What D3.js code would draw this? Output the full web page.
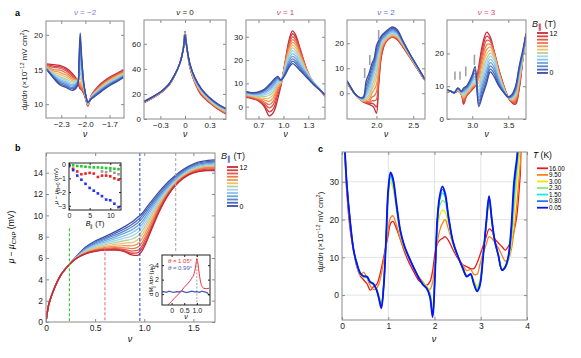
<!DOCTYPE html>
<html>
<head>
<meta charset="utf-8">
<script src="https://cdn.jsdelivr.net/npm/d3@7"></script>
<style>
body { margin: 0; background: #fff; }
svg { font-family: "Liberation Sans", Arial, sans-serif; }
</style>
</head>
<body>
<svg id="fig" width="581" height="358"></svg>
<script>
// ---------- data ----------
// in-plane fields (T), row order of every field matrix below = 0..12 T
var fieldsT = [0, 1, 2, 3, 4, 5, 6, 7, 8, 9, 10, 11, 12];
var fieldColors = ["#3a4ca6", "#4a68bc", "#5a86cc", "#6ea4dc", "#88c4ea", "#a4d4ee", "#b4cfa8",
                   "#f0c068", "#f09a5a", "#ea7a50", "#e05a48", "#d64040", "#c42a3a"];

// panel a, nu = -2
var nuM2 = [-2.48, -2.4, -2.32, -2.24, -2.16, -2.1, -2.08, -2.065, -2.05, -2.02, -1.99, -1.97, -1.92, -1.84, -1.76, -1.68, -1.6, -1.53];
var dmuM2 = [
  [15.0, 13.8, 12.8, 12.4, 12.0, 12.6, 16.5, 20.3, 17.5, 13.0, 11.0, 10.3, 10.8, 11.5, 12.2, 12.8, 13.3, 13.8],
  [15.0, 13.9, 13.0, 12.6, 12.2, 12.8, 16.0, 19.6, 17.0, 13.0, 11.0, 10.3, 10.9, 11.6, 12.3, 12.9, 13.4, 13.9],
  [15.1, 14.0, 13.2, 12.8, 12.4, 13.0, 15.5, 18.5, 16.5, 12.9, 11.0, 10.2, 10.9, 11.7, 12.4, 13.0, 13.5, 14.0],
  [15.1, 14.1, 13.4, 13.0, 12.6, 13.1, 15.0, 17.5, 15.8, 12.8, 10.9, 10.2, 11.0, 11.8, 12.5, 13.1, 13.6, 14.1],
  [15.2, 14.2, 13.6, 13.2, 12.8, 13.2, 14.6, 16.5, 15.0, 12.7, 10.9, 10.1, 11.0, 11.9, 12.6, 13.2, 13.7, 14.1],
  [15.2, 14.3, 13.8, 13.4, 13.0, 13.3, 14.2, 15.5, 14.3, 12.6, 10.8, 10.1, 11.1, 12.0, 12.7, 13.3, 13.8, 14.2],
  [15.3, 14.4, 14.0, 13.6, 13.2, 13.4, 13.8, 14.6, 13.8, 12.5, 10.8, 10.0, 11.1, 12.0, 12.8, 13.4, 13.9, 14.3],
  [15.3, 14.6, 14.3, 13.9, 13.4, 13.4, 13.5, 13.8, 13.2, 12.3, 10.7, 10.0, 11.2, 12.1, 12.9, 13.5, 14.0, 14.4],
  [15.4, 14.8, 14.6, 14.2, 13.6, 13.4, 13.2, 13.2, 12.8, 12.1, 10.7, 9.9, 11.2, 12.2, 13.0, 13.6, 14.1, 14.5],
  [15.5, 15.0, 14.9, 14.5, 13.8, 13.4, 13.0, 12.8, 12.5, 11.9, 10.6, 9.9, 11.3, 12.3, 13.1, 13.7, 14.2, 14.6],
  [15.6, 15.3, 15.2, 14.8, 14.0, 13.4, 12.8, 12.5, 12.3, 11.7, 10.6, 9.8, 11.3, 12.4, 13.2, 13.8, 14.3, 14.7],
  [15.7, 15.5, 15.4, 15.0, 14.2, 13.4, 12.7, 12.3, 12.2, 11.6, 10.5, 9.8, 11.4, 12.5, 13.3, 13.9, 14.4, 14.8],
  [15.8, 15.7, 15.6, 15.2, 14.4, 13.4, 12.6, 12.2, 12.1, 11.5, 10.5, 9.7, 11.4, 12.6, 13.4, 14.0, 14.5, 14.9]
];

// panel a, nu = 0
var nu0 = [-0.5, -0.4, -0.3, -0.2, -0.12, -0.06, -0.02, 0, 0.02, 0.06, 0.12, 0.2, 0.3, 0.4, 0.5];
var dmu0 = [
  [14, 17.5, 21.5, 27.5, 36, 45, 56, 67, 58, 44, 33, 24, 17, 12, 8.5],
  [14, 17.5, 21.5, 27.5, 36, 45, 56, 67, 58, 44, 33, 24, 17, 12, 8.2],
  [13.9, 17.4, 21.4, 27.4, 36, 45, 56, 67.5, 58, 43.5, 32.5, 23.5, 16.5, 11.5, 8],
  [13.9, 17.4, 21.4, 27.4, 36, 45, 56, 67.5, 58, 43.5, 32.5, 23.3, 16.3, 11.2, 7.6],
  [13.8, 17.3, 21.3, 27.3, 35.8, 45, 56.2, 68, 58.2, 43.2, 32, 23, 16, 10.8, 7.2],
  [13.8, 17.3, 21.3, 27.2, 35.8, 45, 56.2, 68, 58.3, 43, 31.6, 22.5, 15.6, 10.4, 6.8],
  [13.7, 17.2, 21.2, 27.1, 35.7, 45, 56.4, 68.5, 58.4, 42.8, 31.2, 22, 15.2, 10, 6.3],
  [13.6, 17.1, 21.1, 27, 35.7, 45, 56.5, 68.8, 58.5, 42.5, 30.8, 21.5, 14.8, 9.6, 5.9],
  [13.5, 17, 21, 26.9, 35.6, 45, 56.6, 69, 58.6, 42.2, 30.4, 21, 14.4, 9.2, 5.5],
  [13.4, 16.9, 20.9, 26.8, 35.6, 45, 56.7, 69.3, 58.7, 41.9, 30, 20.5, 14, 8.8, 5.1],
  [13.3, 16.8, 20.8, 26.7, 35.5, 45, 56.8, 69.5, 58.8, 41.6, 29.6, 20, 13.6, 8.5, 4.7],
  [13.2, 16.7, 20.7, 26.6, 35.5, 45, 56.9, 69.8, 58.9, 41.3, 29.3, 19.5, 13.3, 8.2, 4.3],
  [13.1, 16.6, 20.6, 26.5, 35.4, 45, 57, 70, 59, 41, 29, 19, 13, 8, 4]
];

// panel a, nu = 1
var nu1 = [0.55, 0.62, 0.7, 0.77, 0.83, 0.88, 0.93, 0.97, 1.02, 1.07, 1.11, 1.15, 1.2, 1.28, 1.36, 1.44, 1.5];
var dmu1 = [
  [6.5, 6.0, 6.3, 7.5, 9.5, 11.5, 13.0, 11.5, 13.5, 17.0, 18.5, 17.5, 15.5, 12.5, 9.5, 7.0, 5.0],
  [6.4, 5.9, 6.1, 7.2, 9.0, 11.0, 12.6, 11.4, 14.0, 17.8, 19.5, 18.5, 16.2, 13.0, 9.8, 7.2, 5.1],
  [6.2, 5.7, 5.8, 6.8, 8.4, 10.3, 12.2, 11.3, 14.5, 18.8, 20.5, 19.5, 17.0, 13.4, 10.0, 7.3, 5.1],
  [6.0, 5.5, 5.5, 6.3, 7.6, 9.5, 11.6, 11.2, 15.0, 19.8, 21.6, 20.6, 17.8, 13.8, 10.2, 7.4, 5.0],
  [5.8, 5.3, 5.1, 5.7, 6.8, 8.6, 11.0, 11.1, 15.6, 20.8, 22.8, 21.7, 18.7, 14.2, 10.4, 7.4, 5.0],
  [5.6, 5.0, 4.7, 5.1, 5.8, 7.6, 10.4, 11.0, 16.2, 21.8, 24.0, 22.8, 19.6, 14.6, 10.5, 7.4, 4.9],
  [5.4, 4.8, 4.3, 4.4, 4.8, 6.5, 9.8, 10.9, 16.8, 22.8, 25.2, 24.0, 20.5, 15.0, 10.6, 7.3, 4.9],
  [5.2, 4.6, 3.9, 3.6, 3.6, 5.3, 9.2, 10.6, 17.3, 23.8, 26.4, 25.2, 21.4, 15.2, 10.6, 7.3, 4.8],
  [5.0, 4.4, 3.6, 2.8, 2.3, 4.0, 8.4, 10.3, 17.7, 24.8, 27.6, 26.4, 22.3, 15.4, 10.5, 7.2, 4.7],
  [4.8, 4.2, 3.3, 2.0, 0.9, 2.5, 7.5, 10.0, 18.1, 25.8, 28.8, 27.5, 23.1, 15.6, 10.4, 7.2, 4.7],
  [4.5, 4.0, 3.0, 1.3, -0.5, 1.0, 6.3, 9.7, 18.5, 27.0, 30.0, 28.5, 23.8, 15.8, 10.3, 7.1, 4.6],
  [4.2, 3.7, 2.7, 0.6, -2.2, -0.8, 4.8, 9.3, 18.8, 28.0, 31.3, 29.5, 24.5, 15.9, 10.2, 7.0, 4.5],
  [4.0, 3.5, 2.5, 0, -4, -2.5, 3, 9, 19, 29, 32.5, 30.5, 25, 16, 10, 7, 4.5]
];

// panel a, nu = 2
var nu2 = [1.6, 1.65, 1.7, 1.76, 1.82, 1.86, 1.9, 1.94, 1.97, 2.0, 2.03, 2.07, 2.12, 2.18, 2.22, 2.28, 2.36, 2.45, 2.55, 2.66];
var dmu2 = [
  [5, 2.5, 0, -1.5, -1.5, 5, 8, 12, 14, 19, 21, 23, 24.5, 26, 26.5, 25.5, 21, 16, 11, 5.5],
  [5, 2.5, 0, -1.5, -1.8, 3, 6.5, 10.5, 13, 17.5, 20, 22.5, 24, 25.5, 26, 25, 20.8, 15.9, 11, 5.5],
  [4.9, 2.4, 0, -1.6, -2, 1.5, 5, 9, 12, 16, 19, 22, 23.5, 25, 25.5, 24.6, 20.6, 15.8, 10.9, 5.4],
  [4.8, 2.4, 0, -1.6, -2.2, 0.5, 3.5, 7.5, 10.5, 14.5, 18, 21.5, 23, 24.5, 25, 24.2, 20.4, 15.7, 10.8, 5.4],
  [4.7, 2.3, 0, -1.7, -2.4, -0.5, 2, 6, 9, 13, 17, 21, 22.6, 24, 24.5, 23.8, 20.2, 15.6, 10.7, 5.3],
  [4.6, 2.3, 0, -1.7, -2.6, -1.2, 0.8, 4.5, 7.5, 11, 16, 20.5, 22.2, 23.6, 24.1, 23.4, 20, 15.5, 10.6, 5.3],
  [4.5, 2.2, 0, -1.8, -2.8, -2, -0.5, 3, 5.5, 9, 15, 19.5, 21.8, 23.2, 23.7, 23, 19.8, 15.3, 10.5, 5.2],
  [4.4, 2.2, 0, -1.8, -3, -2.5, -1.5, 1.5, 3.5, 6.5, 13, 19, 21.4, 22.9, 23.4, 22.7, 19.6, 15.2, 10.4, 5.2],
  [4.3, 2.1, 0, -1.9, -3.1, -3, -2.5, 0, 1.5, 3.5, 10, 18, 21, 22.6, 23.1, 22.4, 19.3, 15, 10.3, 5.1],
  [4.2, 2.1, 0, -1.9, -3.2, -3.3, -3.3, -1.5, -1, 0.5, 8, 17.5, 20.7, 22.4, 22.9, 22.1, 19.1, 14.9, 10.2, 5.1],
  [4.1, 2, 0, -2, -3.3, -3.6, -3.8, -3, -3, -2.5, 6, 16.5, 20.4, 22.2, 22.7, 21.9, 18.9, 14.7, 10.1, 5],
  [4, 2, 0, -2, -3.4, -3.8, -4.2, -4, -4.5, -5.5, 4.5, 15.8, 20.2, 22.1, 22.6, 21.7, 18.7, 14.6, 10, 5],
  [4, 2, 0, -2, -3.5, -4, -4.5, -5, -6, -8, 3, 15, 20, 22, 22.5, 21.5, 18.5, 14.5, 10, 5]
];
var marks2 = [[1.84, 6.1, 10.1], [1.91, 11.3, 15.3], [2.03, 21.3, 25.3]];

// panel a, nu = 3
var nu3 = [2.65, 2.7, 2.75, 2.8, 2.85, 2.88, 2.92, 2.96, 3.0, 3.04, 3.09, 3.14, 3.2, 3.25, 3.3, 3.37, 3.44, 3.5, 3.55, 3.6, 3.65, 3.7, 3.745];
var dmu3 = [
  [9, 8.5, 8, 9.5, 8.5, 9.5, 10, 11.5, 13.5, 16, 3.8, 7, 11, 14.4, 13, 10, 8, 6.8, 7.5, 10, 16, 21, 26],
  [9, 8.5, 8, 9.4, 8.4, 9.2, 9.8, 11.2, 13, 15, 4.5, 8, 12, 15.2, 14, 10.4, 8, 6.6, 7.2, 9.5, 15.5, 20.5, 26],
  [8.9, 8.5, 8, 9.3, 8.3, 8.8, 9.5, 10.8, 12.5, 14, 5.5, 9.2, 13.2, 16.2, 15, 11, 8.2, 6.5, 7, 9, 15, 20, 26],
  [8.8, 8.5, 8, 9.2, 8.2, 8.4, 9.2, 10.4, 12, 13, 6.5, 10.4, 14.5, 17.2, 16, 11.6, 8.4, 6.5, 6.8, 8.6, 14.3, 19.6, 26],
  [8.7, 8.5, 8, 9.1, 8.1, 8, 8.9, 10, 11.5, 12.2, 7.5, 11.6, 15.8, 18.2, 17, 12.2, 8.6, 6.5, 6.6, 8.2, 13.6, 19.3, 26],
  [8.6, 8.5, 8, 9, 8, 7.6, 8.6, 9.6, 11, 11.6, 8.6, 12.9, 17.1, 19.2, 18, 12.8, 8.8, 6.5, 6.4, 7.8, 13, 19, 26],
  [8.5, 8.5, 8, 8.9, 7.9, 7.2, 8.3, 9.2, 10.6, 11.1, 9.8, 14.2, 18.4, 20.1, 18.8, 13.2, 9, 6.5, 6.2, 7.3, 12.4, 18.8, 26],
  [8.4, 8.5, 8, 8.8, 7.8, 6.8, 8, 8.9, 10.2, 10.8, 11, 15.6, 19.8, 21, 19.4, 13.6, 9.2, 6.5, 6, 6.8, 11.8, 18.6, 26],
  [8.3, 8.5, 8, 8.7, 7.7, 6.4, 7.8, 8.6, 9.9, 10.5, 12.2, 17, 21.2, 22, 19.9, 14, 9.4, 6.5, 5.7, 6.3, 11.2, 18.4, 26],
  [8.2, 8.5, 8, 8.6, 7.6, 6, 7.5, 8.4, 9.6, 10.3, 13.3, 18.4, 22.6, 22.8, 20.3, 14.3, 9.6, 6.5, 5.5, 5.8, 10.6, 18.3, 26],
  [8.1, 8.5, 8, 8.6, 7.6, 5.5, 7.3, 8.2, 9.4, 10.2, 14.4, 19.8, 24, 23.6, 20.6, 14.6, 9.8, 6.5, 5.3, 5.3, 10, 18.2, 26],
  [8, 8.5, 8, 8.5, 7.5, 5, 7.1, 8.1, 9.2, 10.1, 15.2, 21.2, 25.3, 24.3, 20.8, 14.8, 9.9, 6.5, 5.1, 4.9, 9.5, 18.1, 26],
  [8, 8.5, 8, 8.5, 7.5, 4.5, 7, 8, 9, 10, 16, 22.5, 26.5, 25, 21, 15, 10, 6.5, 5, 4.5, 9, 18, 26]
];
var marks3 = [[2.76, 12, 14.5], [2.83, 12, 14.5], [2.91, 13, 16], [3.03, 16.5, 19.6]];

// panel b, chemical potential
var nuB = [0, 0.02, 0.05, 0.1, 0.15, 0.2, 0.25, 0.3, 0.4, 0.5, 0.6, 0.7, 0.8, 0.87, 0.93, 0.97, 1.02, 1.08, 1.15, 1.25, 1.35, 1.45, 1.55, 1.65, 1.72];
var muB = [
  [0, 1.3, 2.3, 3.5, 4.4, 5.0, 5.55, 6.05, 7.0, 7.6, 8.0, 8.45, 8.95, 9.35, 9.8, 10.1, 10.7, 11.4, 12.2, 13.2, 14.0, 14.6, 15.0, 15.15, 15.2],
  [0, 1.3, 2.3, 3.5, 4.4, 5.0, 5.55, 6.03, 6.93, 7.5, 7.88, 8.3, 8.75, 9.12, 9.55, 9.88, 10.48, 11.2, 12.02, 13.05, 13.88, 14.5, 14.9, 15.05, 15.1],
  [0, 1.3, 2.3, 3.5, 4.4, 5.0, 5.55, 6.01, 6.86, 7.4, 7.76, 8.14, 8.55, 8.88, 9.28, 9.62, 10.24, 11.0, 11.84, 12.9, 13.76, 14.4, 14.8, 14.95, 15.0],
  [0, 1.3, 2.3, 3.5, 4.4, 5.0, 5.54, 5.99, 6.79, 7.29, 7.63, 7.97, 8.33, 8.62, 9.0, 9.34, 9.98, 10.8, 11.66, 12.76, 13.64, 14.3, 14.7, 14.85, 14.9],
  [0, 1.3, 2.3, 3.5, 4.4, 5.0, 5.54, 5.97, 6.72, 7.18, 7.5, 7.8, 8.1, 8.35, 8.7, 9.05, 9.72, 10.58, 11.48, 12.62, 13.52, 14.2, 14.6, 14.75, 14.8],
  [0, 1.3, 2.3, 3.5, 4.4, 5.0, 5.53, 5.95, 6.65, 7.07, 7.37, 7.62, 7.87, 8.06, 8.38, 8.74, 9.44, 10.35, 11.3, 12.5, 13.45, 14.1, 14.5, 14.65, 14.7],
  [0, 1.3, 2.3, 3.5, 4.4, 5.0, 5.53, 5.93, 6.59, 6.97, 7.24, 7.44, 7.63, 7.76, 8.05, 8.42, 9.15, 10.1, 11.15, 12.4, 13.4, 14.05, 14.45, 14.6, 14.65],
  [0, 1.3, 2.3, 3.5, 4.4, 5.0, 5.52, 5.92, 6.54, 6.88, 7.12, 7.27, 7.4, 7.45, 7.7, 8.08, 8.84, 9.85, 11.0, 12.3, 13.35, 14.0, 14.4, 14.55, 14.6],
  [0, 1.3, 2.3, 3.5, 4.4, 5.0, 5.52, 5.91, 6.49, 6.8, 7.0, 7.1, 7.16, 7.14, 7.3, 7.7, 8.52, 9.6, 10.85, 12.25, 13.3, 13.95, 14.35, 14.5, 14.5],
  [0, 1.3, 2.3, 3.5, 4.4, 5.0, 5.51, 5.9, 6.45, 6.74, 6.91, 6.98, 6.96, 6.88, 7.0, 7.35, 8.2, 9.35, 10.7, 12.2, 13.25, 13.9, 14.3, 14.45, 14.45],
  [0, 1.3, 2.3, 3.5, 4.4, 5.0, 5.51, 5.9, 6.42, 6.69, 6.84, 6.88, 6.8, 6.65, 6.72, 7.05, 7.9, 9.1, 10.55, 12.12, 13.2, 13.85, 14.2, 14.35, 14.35],
  [0, 1.3, 2.3, 3.5, 4.4, 5.0, 5.5, 5.9, 6.4, 6.65, 6.78, 6.8, 6.68, 6.45, 6.48, 6.8, 7.65, 8.95, 10.4, 12.05, 13.15, 13.8, 14.15, 14.25, 14.3],
  [0, 1.3, 2.3, 3.5, 4.4, 5.0, 5.5, 5.9, 6.38, 6.62, 6.74, 6.74, 6.6, 6.3, 6.25, 6.55, 7.45, 8.8, 10.3, 12.0, 13.1, 13.8, 14.1, 14.2, 14.2]
];
var guideNu = [0.238, 0.6, 0.955, 1.32];
var guideTop = [8.8, 7.0, 15.85, 15.85];
var guideBottom = [0, 0, 0, 6.6];
var guideColors = ["#34c034", "#f06a78", "#3050f0", "#aaaaaa"];

// panel b, upper inset: shift of mu at fixed nu vs field
var shiftGreen = [0, -0.05, -0.1, -0.12, -0.15, -0.18, -0.2, -0.2, -0.22, -0.25, -0.27, -0.3, -0.33];
var shiftRed = [-0.1, -0.3, -0.5, -0.7, -0.65, -0.6, -0.65, -0.9, -0.8, -0.8, -0.85, -1.0, -1.1];
var shiftBlue = [-0.1, -0.4, -0.8, -1.1, -1.4, -1.7, -1.9, -2.1, -2.3, -2.55, -2.6, -2.85, -3.1];
var grayFields = [8, 9, 10, 11, 12];
var shiftGray = [-0.5, -0.55, -0.45, -0.6, -0.7];

// panel b, lower inset: magnetisation derivative
var nuMagRed = [-0.15, 0, 0.1, 0.2, 0.3, 0.4, 0.5, 0.6, 0.7, 0.8, 0.88, 0.94, 0.98, 1.0, 1.03, 1.08, 1.14, 1.2, 1.28, 1.38, 1.48];
var magRed = [-1.5, -1.0, -0.6, -0.25, 0.1, 0.5, 0.95, 1.3, 1.7, 2.2, 2.7, 3.6, 4.5, 4.9, 4.5, 3.2, 1.8, 1.1, 0.8, 0.75, 0.8];
var nuMagBlue = [-0.38, -0.3, -0.2, -0.1, 0, 0.1, 0.2, 0.3, 0.4, 0.5, 0.6, 0.7, 0.8, 0.9, 1.0, 1.1, 1.2, 1.3, 1.4, 1.5];
var magBlue = [0.3, 0.35, 0.25, 0.4, 0.3, 0.25, 0.35, 0.3, 0.45, 0.3, 0.2, 0.3, 0.4, 0.3, 0.35, 0.25, 0.4, 0.3, 0.2, -0.2];

// panel c, temperature dependence
var tempLabels = ["16.00", "9.50", "3.00", "2.30", "1.50", "0.80", "0.05"];
var tempColors = ["#e8191c", "#f7821e", "#f2e600", "#7cea7c", "#18e6f0", "#1a7cf2", "#0a14f0"];
var nuC = [0.05, 0.1, 0.18, 0.25, 0.32, 0.4, 0.47, 0.54, 0.61, 0.68, 0.75, 0.8, 0.85, 0.9, 0.95, 1.0, 1.05, 1.1, 1.18, 1.26,
           1.35, 1.45, 1.55, 1.65, 1.75, 1.83, 1.9, 1.96, 2.01, 2.06, 2.11, 2.17, 2.23, 2.3, 2.4, 2.5, 2.6, 2.7, 2.78, 2.85,
           2.92, 2.98, 3.05, 3.12, 3.18, 3.24, 3.3, 3.38, 3.46, 3.53, 3.6, 3.66, 3.72, 3.78, 3.85, 3.92, 4.0];
var dmuC = [
  [42, 28, 17, 11.9, 7.5, 5, 4, 3, 1.3, 2.2, 2.8, 4.5, 7, 10, 13, 16, 19, 19.5, 17.5, 14.8, 11.5, 8.6, 6.2, 4, 3.1, 2.6, 3.5, 6.5, 11, 13.5,
   14.5, 15, 15.5, 14.5, 12, 9.8, 8.2, 7.5, 7, 7, 8.5, 10.5, 13, 15.5, 17.5, 17, 15, 13.8, 12.8, 11.9, 13, 14.6, 17, 21, 31, 42, 42],
  [42, 29, 18, 11.5, 8.5, 5.5, 6, 4.5, 2.5, 1.5, 1.8, 3, 5.5, 9, 13, 17.5, 20.5, 21, 18.5, 15, 12, 9.5, 7.2, 5, 3.5, 2, 1.5, 3.5, 9, 14,
   17, 19, 20, 17.5, 13.5, 10.5, 8.2, 6.5, 6.8, 5.5, 5.5, 8, 11, 13.5, 15.5, 15, 14, 12.5, 10.5, 9, 9.5, 12, 17, 24, 34, 42, 42],
  [42, 30, 19, 12, 8, 5.4, 4.7, 4.5, 3.3, 2.8, 1.5, 0, -2, 3.2, 13, 25.5, 30, 28.5, 22.2, 16.3, 12.6, 9.7, 7.3, 5.0, 3.1, 2.4, 0.8, -3, 6, 17,
   21, 22.5, 22, 19, 13.6, 10.3, 7.6, 5.3, 5.3, 3.9, 2.4, 3.9, 11, 18, 24, 19, 14.3, 10.4, 7, 7.2, 9.3, 13.5, 21, 30, 38, 42, 42],
  [42, 30, 19, 12, 8.1, 5.5, 4.8, 4.6, 3.3, 2.8, 1.3, -0.5, -2.5, 2.8, 13.5, 26.5, 31, 29.5, 22.8, 16.6, 12.7, 9.7, 7.2, 4.8, 2.9, 2.1, 0.3, -4.5, 5.8, 18.2,
   23.5, 25, 24.5, 20, 13.8, 10.3, 7.5, 5.1, 5.3, 3.5, 1.8, 3.4, 10.8, 18.7, 25, 19.4, 14.4, 10.4, 6.8, 7.2, 9.6, 15, 24, 33, 40, 42, 42],
  [42, 30, 19, 12, 8.2, 5.6, 4.9, 4.7, 3.4, 2.8, 1.2, -0.7, -3.0, 2.4, 13.8, 27, 31.5, 30, 23.2, 16.8, 12.8, 9.8, 7.2, 4.7, 2.8, 1.9, -0.1, -5, 5.5, 19,
   25, 27, 26, 20.4, 13.9, 10.3, 7.4, 5.0, 5.4, 3.2, 1.4, 3.0, 10.5, 19, 25.5, 19.6, 14.4, 10.4, 6.6, 7.3, 10, 16, 26, 34, 41, 42, 42],
  [42, 30, 19, 12, 8.3, 5.6, 5, 4.8, 3.4, 2.9, 1.2, -0.9, -3.2, 2.2, 14, 27.5, 32, 30.5, 23.6, 17, 12.9, 9.9, 7.2, 4.7, 2.7, 1.8, -0.3, -5.5, 5.2, 19.5,
   25.5, 28, 26.5, 20.7, 14, 10.4, 7.4, 4.9, 5.5, 3.0, 1.1, 2.7, 10.2, 19.3, 26, 19.8, 14.5, 10.5, 6.6, 7.4, 10.2, 17, 28, 35, 42, 42, 42],
  [42, 30, 19, 12, 8.4, 5.7, 5, 4.9, 3.5, 3.0, 1.3, -1, -3.5, 2, 14, 28, 32.5, 31, 24, 17.2, 13, 10, 7.3, 4.8, 2.8, 1.8, -0.4, -5.8, 5, 20,
   26, 28.8, 27, 21, 14.2, 10.5, 7.5, 4.9, 5.6, 3.0, 1.0, 2.5, 10, 19.5, 26.2, 20, 14.6, 10.6, 6.6, 7.5, 10.5, 18, 30, 36, 42, 42, 42]
];

// ---------- drawing ----------
var svg = d3.select("#fig");
var defs = svg.append("defs");
var clipCount = 0;

function makePlot(box, xd, yd, xt, yt, fx, fy, opt) {
    opt = opt || {};
    var x = d3.scaleLinear().domain(xd).range([box[0], box[1]]);
    var y = d3.scaleLinear().domain(yd).range([box[3], box[2]]);
    var frameColor = opt.frame || "#8a8a8a";
    var fs = opt.fs || 8;
    var ts = opt.ts || 3;
    var g = svg.append("g");

    if (opt.grid) {
        g.selectAll(".gx").data(xt.slice(1, -1)).enter().append("line")
            .attr("x1", x).attr("x2", x).attr("y1", box[2]).attr("y2", box[3])
            .attr("stroke", "#dcdcdc").attr("stroke-width", 0.8);
        g.selectAll(".gy").data(yt).enter().append("line")
            .attr("x1", box[0]).attr("x2", box[1]).attr("y1", y).attr("y2", y)
            .attr("stroke", "#dcdcdc").attr("stroke-width", 0.8);
    }

    var id = "clip" + (clipCount++);
    defs.append("clipPath").attr("id", id).append("rect")
        .attr("x", box[0]).attr("y", box[2])
        .attr("width", box[1] - box[0]).attr("height", box[3] - box[2]);
    var plot = g.append("g").attr("clip-path", "url(#" + id + ")");

    var ax = g.append("g");
    function style(sel) {
        sel.select(".domain").remove();
        sel.selectAll("line").attr("stroke", frameColor);
        sel.selectAll("text").attr("fill", "#222").attr("font-size", fs);
        sel.attr("font-family", null).attr("font-size", null);
    }
    ax.append("g").attr("transform", "translate(0," + box[3] + ")")
        .call(d3.axisBottom(x).tickValues(xt).tickFormat(fx).tickSize(-ts).tickPadding(3)).call(style);
    ax.append("g").attr("transform", "translate(0," + box[2] + ")")
        .call(d3.axisTop(x).tickValues(xt).tickFormat("").tickSize(-ts)).call(style);
    ax.append("g").attr("transform", "translate(" + box[0] + ",0)")
        .call(d3.axisLeft(y).tickValues(yt).tickFormat(fy).tickSize(-ts).tickPadding(3)).call(style);
    ax.append("g").attr("transform", "translate(" + box[1] + ",0)")
        .call(d3.axisRight(y).tickValues(yt).tickFormat("").tickSize(-ts)).call(style);
    ax.append("rect").attr("x", box[0]).attr("y", box[2])
        .attr("width", box[1] - box[0]).attr("height", box[3] - box[2])
        .attr("fill", "none").attr("stroke", frameColor).attr("stroke-width", opt.sw || 1);
    return { x: x, y: y, plot: plot, g: g };
}

function italicNu(parent, x, y, size, anchor) {
    return parent.append("text").attr("x", x).attr("y", y).attr("font-size", size)
        .attr("text-anchor", anchor || "middle").attr("font-style", "italic").text("ν");
}

var f1 = d3.format(".1f");
function fNu(d) { return d === 0 ? "0" : f1(d); }
var fInt = d3.format("d");

// ----- panel a -----
var aPanels = [
    { box: [46, 124, 21, 118], xd: [-2.49, -1.52], yd: [8, 22], xt: [-2.3, -2.0, -1.7], yt: [10, 15, 20], nu: nuM2, v: dmuM2, title: "−2", tc: "#8080d0" },
    { box: [144, 226, 20, 119], xd: [-0.5, 0.5], yd: [0, 79], xt: [-0.3, 0, 0.3], yt: [0, 20, 40, 60], nu: nu0, v: dmu0, title: "0", tc: "#222" },
    { box: [246, 325, 20, 119], xd: [0.55, 1.5], yd: [-5.3, 37.2], xt: [0.7, 1.0, 1.3], yt: [0, 10, 20, 30], nu: nu1, v: dmu1, title: "1", tc: "#d8406a" },
    { box: [347, 425, 20, 119], xd: [1.6, 2.66], yd: [-10.3, 29.3], xt: [2.0, 2.5], yt: [0, 10, 20], nu: nu2, v: dmu2, title: "2", tc: "#6070d8", marks: marks2 },
    { box: [447, 526, 20, 119], xd: [2.65, 3.745], yd: [0, 30.2], xt: [3.0, 3.5], yt: [0, 10, 20], nu: nu3, v: dmu3, title: "3", tc: "#e0407a", marks: marks3 }
];

aPanels.forEach(function (p) {
    var P = makePlot(p.box, p.xd, p.yd, p.xt, p.yt, fNu, fInt);
    var line = d3.line().x(function (d, i) { return P.x(p.nu[i]); }).y(function (d) { return P.y(d); })
        .curve(d3.curveCatmullRom.alpha(0.5));
    var order = fieldsT.slice().reverse();
    P.plot.selectAll(".c").data(order).enter().append("path")
        .attr("d", function (k) { return line(p.v[k]); })
        .attr("fill", "none").attr("stroke", function (k) { return fieldColors[k]; })
        .attr("stroke-width", 1.3).attr("stroke-linejoin", "round");
    if (p.marks) {
        P.plot.selectAll(".m").data(p.marks).enter().append("line")
            .attr("x1", function (d) { return P.x(d[0]); }).attr("x2", function (d) { return P.x(d[0]); })
            .attr("y1", function (d) { return P.y(d[1]); }).attr("y2", function (d) { return P.y(d[2]); })
            .attr("stroke", "#a0a0a0").attr("stroke-width", 1.6);
    }
    var cx = (p.box[0] + p.box[1]) / 2;
    var t = svg.append("text").attr("x", cx).attr("y", 15).attr("font-size", 8)
        .attr("text-anchor", "middle").attr("fill", p.tc);
    t.append("tspan").attr("font-style", "italic").text("ν");
    t.append("tspan").text(" = " + p.title);
    italicNu(svg, cx, 137, 8.5);
});

function dmuLabel(x, y) {
    var t = svg.append("text").attr("transform", "translate(" + x + "," + y + ") rotate(-90)")
        .attr("font-size", 8).attr("text-anchor", "middle").attr("fill", "#222");
    t.append("tspan").text("d");
    t.append("tspan").attr("font-style", "italic").text("μ");
    t.append("tspan").text("/d");
    t.append("tspan").attr("font-style", "italic").text("n");
    t.append("tspan").text(" (×10");
    t.append("tspan").attr("font-size", 5.5).attr("dy", -3).text("−12");
    t.append("tspan").attr("dy", 3).text(" mV cm");
    t.append("tspan").attr("font-size", 5.5).attr("dy", -3).text("2");
    t.append("tspan").attr("dy", 3).text(")");
}
dmuLabel(27, 70);

function fieldLegend(tx, ty, lx, top, step, subColor) {
    var t = svg.append("text").attr("x", tx).attr("y", ty).attr("font-size", 9).attr("fill", "#222");
    t.append("tspan").attr("font-style", "italic").text("B");
    t.append("tspan").attr("font-size", 6.5).attr("dy", 2).attr("fill", subColor).attr("font-weight", "bold").text("∥");
    t.append("tspan").attr("dy", -2).text(" (T)");
    var rows = fieldsT.slice().reverse();
    svg.selectAll(null).data(rows).enter().append("line")
        .attr("x1", lx).attr("x2", lx + 11)
        .attr("y1", function (d, i) { return top + i * step; })
        .attr("y2", function (d, i) { return top + i * step; })
        .attr("stroke", function (d) { return fieldColors[d]; }).attr("stroke-width", 1.8);
    svg.append("text").attr("x", lx + 12.5).attr("y", top + 2.5).attr("font-size", 7).text(fieldsT[12]);
    svg.append("text").attr("x", lx + 12.5).attr("y", top + 12 * step + 2.5).attr("font-size", 7).text(fieldsT[0]);
}
fieldLegend(532, 27, 537, 33, 3.33, "#d02848");

svg.append("text").attr("x", 15).attr("y", 16).attr("font-size", 9).attr("font-weight", "bold").text("a");
svg.append("text").attr("x", 15).attr("y", 151).attr("font-size", 9).attr("font-weight", "bold").text("b");
svg.append("text").attr("x", 318).attr("y", 152).attr("font-size", 9).attr("font-weight", "bold").text("c");

// ----- panel b -----
var B = makePlot([46, 215, 153, 322], [0, 1.72], [0, 15.85], [0, 0.5, 1, 1.5], [0, 2, 4, 6, 8, 10, 12, 14], fNu, fInt, { fs: 8.5 });
var lineB = d3.line().x(function (d, i) { return B.x(nuB[i]); }).y(function (d) { return B.y(d); }).curve(d3.curveMonotoneX);
B.plot.selectAll(".c").data(fieldsT).enter().append("path")
    .attr("d", function (k) { return lineB(muB[k]); })
    .attr("fill", "none").attr("stroke", function (k) { return fieldColors[k]; }).attr("stroke-width", 1.3);
B.plot.selectAll(".guide").data(guideNu).enter().append("line")
    .attr("x1", function (d) { return B.x(d); }).attr("x2", function (d) { return B.x(d); })
    .attr("y1", function (d, i) { return B.y(guideTop[i]); }).attr("y2", function (d, i) { return B.y(guideBottom[i]); })
    .attr("stroke", function (d, i) { return guideColors[i]; }).attr("stroke-width", 1.1).attr("stroke-dasharray", "3,2");
italicNu(svg, 130, 342, 9);
var bl = svg.append("text").attr("transform", "translate(14,237) rotate(-90)").attr("font-size", 8.5).attr("text-anchor", "middle");
bl.append("tspan").attr("font-style", "italic").text("μ");
bl.append("tspan").text(" − ");
bl.append("tspan").attr("font-style", "italic").text("μ");
bl.append("tspan").attr("font-size", 6).attr("dy", 2).text("CNP");
bl.append("tspan").attr("dy", -2).text(" (mV)");
fieldLegend(221, 159, 227, 167, 3.25, "#5060c8");

// upper inset
var I1 = makePlot([69, 121, 163, 210], [0, 12.6], [-3.31, 0.12], [0, 5, 10], [0, -1, -2, -3], fInt, fInt, { frame: "#222", fs: 7, ts: 2 });
function dots(sel, xs, ys, color) {
    sel.selectAll(null).data(ys).enter().append("rect")
        .attr("x", function (d, i) { return I1.x(xs[i]) - 1.3; })
        .attr("y", function (d) { return I1.y(d) - 1.3; })
        .attr("width", 2.6).attr("height", 2.6).attr("fill", color);
}
var lineI1 = d3.line().x(function (d, i) { return I1.x(fieldsT[i]); }).y(function (d) { return I1.y(d); });
I1.plot.append("path").attr("d", lineI1(shiftBlue)).attr("fill", "none").attr("stroke", "#aab4f4")
    .attr("stroke-width", 0.8).attr("stroke-dasharray", "1,1.5");
dots(I1.plot, grayFields, shiftGray, "#9a9a9a");
dots(I1.plot, fieldsT, shiftGreen, "#22cc22");
dots(I1.plot, fieldsT, shiftRed, "#ee2222");
dots(I1.plot, fieldsT, shiftBlue, "#2233ee");
var il = svg.append("text").attr("transform", "translate(58,186) rotate(-90)").attr("font-size", 6).attr("text-anchor", "middle");
il.append("tspan").attr("font-style", "italic").text("μ");
il.append("tspan").text(" − ");
il.append("tspan").attr("font-style", "italic").text("μ");
il.append("tspan").attr("font-size", 4.5).attr("dy", 1.5).text("B=0");
il.append("tspan").attr("dy", -1.5).text(" (mV)");
var ixl = svg.append("text").attr("x", 95).attr("y", 226).attr("font-size", 7).attr("text-anchor", "middle");
ixl.append("tspan").attr("font-style", "italic").text("B");
ixl.append("tspan").attr("font-size", 5).attr("dy", 1.5).text("∥");
ixl.append("tspan").attr("dy", -1.5).text(" (T)");

// lower inset
var I2 = makePlot([162, 210, 255, 305], [-0.38, 1.52], [-1.5, 5.4], [0, 0.5, 1.0], [0, 2, 4], fNu, fInt, { frame: "#222", fs: 7, ts: 2 });
I2.plot.append("line").attr("x1", I2.x(1)).attr("x2", I2.x(1)).attr("y1", 255).attr("y2", 305)
    .attr("stroke", "#999").attr("stroke-dasharray", "2,1.5").attr("stroke-width", 0.9);
var lineRed = d3.line().x(function (d, i) { return I2.x(nuMagRed[i]); }).y(function (d) { return I2.y(d); }).curve(d3.curveMonotoneX);
var lineBlue = d3.line().x(function (d, i) { return I2.x(nuMagBlue[i]); }).y(function (d) { return I2.y(d); });
I2.plot.append("path").attr("d", lineBlue(magBlue)).attr("fill", "none").attr("stroke", "#4a5cb8").attr("stroke-width", 1.3);
I2.plot.append("path").attr("d", lineRed(magRed)).attr("fill", "none").attr("stroke", "#f03040").attr("stroke-width", 1);
var th1 = svg.append("text").attr("x", 168).attr("y", 263).attr("font-size", 6).attr("fill", "#f03040");
th1.append("tspan").attr("font-style", "italic").text("θ");
th1.append("tspan").text(" = 1.05°");
var th2 = svg.append("text").attr("x", 168).attr("y", 270).attr("font-size", 6).attr("fill", "#4a5cb8");
th2.append("tspan").attr("font-style", "italic").text("θ");
th2.append("tspan").text(" = 0.99°");
var ml = svg.append("text").attr("transform", "translate(153,280) rotate(-90)").attr("font-size", 6).attr("text-anchor", "middle");
ml.append("tspan").text("d");
ml.append("tspan").attr("font-style", "italic").text("M");
ml.append("tspan").attr("font-size", 4.5).attr("dy", 1.5).text("∥");
ml.append("tspan").attr("dy", -1.5).text("/d");
ml.append("tspan").attr("font-style", "italic").text("n");
ml.append("tspan").text(" (μ");
ml.append("tspan").attr("font-size", 4.5).attr("dy", 1.5).text("B");
ml.append("tspan").attr("dy", -1.5).text(")");
italicNu(svg, 186, 319, 7);

// ----- panel c -----
var C = makePlot([342, 527, 152, 320], [0, 4], [-6.6, 37.9], [0, 1, 2, 3, 4], [0, 10, 20, 30], fInt, fInt, { fs: 8.5, grid: true });
var lineC = d3.line().x(function (d, i) { return C.x(nuC[i]); }).y(function (d) { return C.y(d); })
    .curve(d3.curveCatmullRom.alpha(0.5));
C.plot.selectAll(".c").data(tempLabels).enter().append("path")
    .attr("d", function (d, i) { return lineC(dmuC[i]); })
    .attr("fill", "none").attr("stroke", function (d, i) { return tempColors[i]; })
    .attr("stroke-width", function (d, i) { return i === 6 ? 1.8 : 1.3; }).attr("stroke-linejoin", "round");
dmuLabel(323, 232);
italicNu(svg, 434, 342, 9);

var tl = svg.append("text").attr("x", 533).attr("y", 158).attr("font-size", 8.5);
tl.append("tspan").attr("font-style", "italic").text("T");
tl.append("tspan").text(" (K)");
svg.selectAll(".tl").data(tempLabels).enter().append("line")
    .attr("x1", 537).attr("x2", 548)
    .attr("y1", function (d, i) { return 168.3 + i * 6.57; }).attr("y2", function (d, i) { return 168.3 + i * 6.57; })
    .attr("stroke", function (d, i) { return tempColors[i]; }).attr("stroke-width", 1.8);
svg.selectAll(".tt").data(tempLabels).enter().append("text")
    .attr("x", 549).attr("y", function (d, i) { return 170.5 + i * 6.57; })
    .attr("font-size", 6.3).text(function (d) { return d; });
</script>
</body>
</html>
